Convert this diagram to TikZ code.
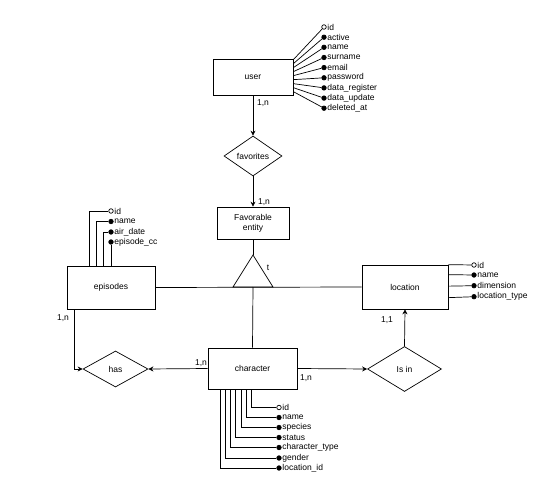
\documentclass[tikz,border=0pt]{standalone}
\usepackage{fontspec}
\setmainfont{Liberation Sans}
\usetikzlibrary{shapes.geometric,arrows.meta}

\begin{document}
\begin{tikzpicture}[x=1pt,y=-1pt,font=\fontsize{8.5}{10}\selectfont,
    line width=0.7pt,
    entity/.style={draw,rectangle,inner sep=0pt},
    relation/.style={draw,diamond,inner sep=0pt},
    attr/.style={draw,circle,fill=black,inner sep=0pt,minimum size=4.5pt},
    keyattr/.style={attr,fill=white},
    arr/.style={-{Stealth[length=5pt,width=5pt]}}]
     \useasboundingbox (0,0) rectangle (557,489);
     % entities and relations
     \node[entity,minimum width=80pt,minimum height=36pt] (user)      at (253, 77) {user};
     \node[relation,minimum width=58pt,minimum height=40pt] (fav)     at (253,156) {favorites};
     \node[entity,minimum width=72pt,minimum height=32pt,align=center] (favent) at (253,223) {Favorable\\entity};
     \node[entity,minimum width=88pt,minimum height=43pt] (episodes)  at (111,287.5) {episodes};
     \node[entity,minimum width=86pt,minimum height=44pt] (location)  at (405,287) {location};
     \node[entity,minimum width=89pt,minimum height=41pt] (character) at (252.5,368.5) {character};
     \node[relation,minimum width=65pt,minimum height=36pt] (has)     at (115.5,369) {has};
     \node[relation,minimum width=74pt,minimum height=45pt] (isin)    at (404.5,369) {Is in};
     % total specialisation
     \coordinate (tritop)  at (253,255);
     \coordinate (tribase) at (253,287);
     \draw (tritop) -- (233,287) -- (273,287) -- cycle;
     \node (t) at (268,268) {t};
     \draw (favent.south) -- (tritop);
     \draw (tribase) -- (character.north);
     \draw (episodes.east) -- (location.west);
     % relationships
     \draw[arr] (user.south) -- (fav.north);
     \draw[arr] (fav.south) -- (favent.north);
     \draw[arr] (character.west) -- (has.east);
     \draw[arr] ([xshift=-37pt]episodes.south) |- (has.west);
     \draw[arr] (character.east) -- (isin.west);
     \draw[arr] (isin.north) -- (location.south);
     \node (c1) at (263,103) {1,n};
     \node (c2) at (264,202) {1,n};
     \node (c3) at ( 63,318) {1,n};
     \node (c4) at (201,363) {1,n};
     \node (c5) at (306,378) {1,n};
     \node (c6) at (387,320) {1,1};
     % user attributes
     \node[keyattr,label={[inner sep=0.5pt]right:id}]            (u1) at (324, 27.0) {};
     \node[attr,label={[inner sep=0.5pt]right:active}]           (u2) at (324, 37.2) {};
     \node[attr,label={[inner sep=0.5pt]right:name}]             (u3) at (324, 47.3) {};
     \node[attr,label={[inner sep=0.5pt]right:surname}]          (u4) at (324, 57.5) {};
     \node[attr,label={[inner sep=0.5pt]right:email}]            (u5) at (324, 67.6) {};
     \node[attr,label={[inner sep=0.5pt]right:password}]         (u6) at (324, 77.8) {};
     \node[attr,label={[inner sep=0.5pt]right:data\_register}]   (u7) at (324, 87.9) {};
     \node[attr,label={[inner sep=0.5pt]right:data\_update}]     (u8) at (324, 98.1) {};
     \node[attr,label={[inner sep=0.5pt]right:deleted\_at}]      (u9) at (324,108.2) {};
     \draw ([yshift= -1pt]user.north east) -- (u1);
     \draw ([yshift= -5pt]user.north east) -- (u2);
     \draw ([yshift= -9pt]user.north east) -- (u3);
     \draw ([yshift=-13pt]user.north east) -- (u4);
     \draw ([yshift=-17pt]user.north east) -- (u5);
     \draw ([yshift=-21pt]user.north east) -- (u6);
     \draw ([yshift=-25pt]user.north east) -- (u7);
     \draw ([yshift=-29pt]user.north east) -- (u8);
     \draw ([yshift=-33pt]user.north east) -- (u9);
     % episodes attributes
     \node[keyattr,label={[inner sep=0.5pt]right:id}]            (e1) at (111,211) {};
     \node[attr,label={[inner sep=0.5pt]right:name}]             (e2) at (111,221.5) {};
     \node[attr,label={[inner sep=0.5pt]right:air\_date}]        (e3) at (111,232) {};
     \node[attr,label={[inner sep=0.5pt]right:episode\_cc}]      (e4) at (111,242) {};
     \draw ([xshift=-22pt]episodes.north) |- (e1);
     \draw ([xshift=-15pt]episodes.north) |- (e2);
     \draw ([xshift= -8pt]episodes.north) |- (e3);
     \draw (episodes.north) -- (e4);
     % location attributes
     \node[keyattr,label={[inner sep=0.5pt]right:id}]            (l1) at (474,265) {};
     \node[attr,label={[inner sep=0.5pt]right:name}]             (l2) at (474,275) {};
     \node[attr,label={[inner sep=0.5pt]right:dimension}]        (l3) at (474,285.7) {};
     \node[attr,label={[inner sep=0.5pt]right:location\_type}]   (l4) at (474,296.7) {};
     \draw (location.north east) -- (l1);
     \draw ([yshift=-10pt]location.north east) -- (l2);
     \draw ([yshift=-21.5pt]location.north east) -- (l3);
     \draw ([yshift=-33pt]location.north east) -- (l4);
     % character attributes
     \node[keyattr,label={[inner sep=0.5pt]right:id}]            (h1) at (279,407.5) {};
     \node[attr,label={[inner sep=0.5pt]right:name}]             (h2) at (279,417.5) {};
     \node[attr,label={[inner sep=0.5pt]right:species}]          (h3) at (279,427.5) {};
     \node[attr,label={[inner sep=0.5pt]right:status}]           (h4) at (279,437.5) {};
     \node[attr,label={[inner sep=0.5pt]right:character\_type}]  (h5) at (279,447.5) {};
     \node[attr,label={[inner sep=0.5pt]right:gender}]           (h6) at (279,458) {};
     \node[attr,label={[inner sep=0.5pt]right:location\_id}]     (h7) at (279,468) {};
     \draw ([xshift= -1pt]character.south) |- (h1);
     \draw ([xshift= -6pt]character.south) |- (h2);
     \draw ([xshift=-11pt]character.south) |- (h3);
     \draw ([xshift=-17pt]character.south) |- (h4);
     \draw ([xshift=-22pt]character.south) |- (h5);
     \draw ([xshift=-27pt]character.south) |- (h6);
     \draw ([xshift=-32pt]character.south) |- (h7);
\end{tikzpicture}
\end{document}
